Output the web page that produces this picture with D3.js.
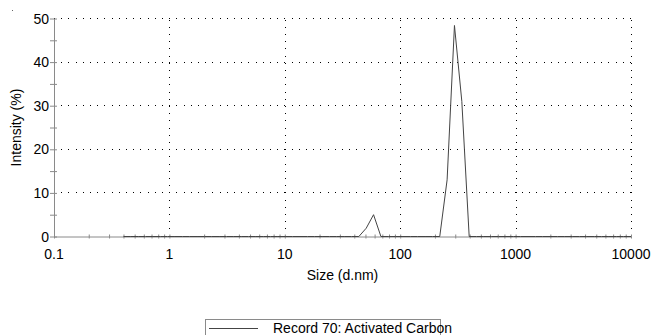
<!DOCTYPE html>
<html>
<head>
<meta charset="utf-8">
<script src="https://cdn.jsdelivr.net/npm/d3@7"></script>
<style>
  html, body { margin: 0; padding: 0; background: #fff; }
  svg { display: block; font-family: "Liberation Sans", Arial, sans-serif; }
</style>
</head>
<body>
<svg id="chart" width="653" height="335"></svg>
<script>
// Size distribution by intensity (size classes in d.nm)
const sizes = [0.4, 0.4632, 0.5365, 0.6213, 0.7195, 0.8332, 0.9649, 1.117, 1.294, 1.499,
  1.736, 2.01, 2.328, 2.696, 3.122, 3.615, 4.187, 4.849, 5.615, 6.503,
  7.531, 8.721, 10.1, 11.7, 13.54, 15.69, 18.17, 21.04, 24.36, 28.21,
  32.67, 37.84, 43.82, 50.75, 58.77, 68.06, 78.82, 91.28, 105.7, 122.4,
  141.8, 164.2, 190.1, 220.2, 255.0, 295.3, 342.0, 396.1, 458.7, 531.2,
  615.1, 712.4, 825.0, 955.4, 1106, 1281, 1484, 1718, 1990, 2305,
  2669, 3091, 3580, 4145, 4801, 5560, 6439, 7456, 8635, 10000];

const intensity = [0, 0, 0, 0, 0, 0, 0, 0, 0, 0,
  0, 0, 0, 0, 0, 0, 0, 0, 0, 0,
  0, 0, 0, 0, 0, 0, 0, 0, 0, 0,
  0, 0, 0, 1.9, 5.0, 0, 0, 0, 0, 0,
  0, 0, 0, 0, 13.0, 48.4, 31.0, 0, 0, 0,
  0, 0, 0, 0, 0, 0, 0, 0, 0, 0,
  0, 0, 0, 0, 0, 0, 0, 0, 0, 0];

const xTicks = [0.1, 1, 10, 100, 1000, 10000];
const xTickLabels = ["0.1", "1", "10", "100", "1000", "10000"];
const yTicks = [0, 10, 20, 30, 40, 50];
const yMinorTicks = [5, 15, 25, 35, 45];
const seriesName = "Record 70: Activated Carbon";
const xTitle = "Size (d.nm)";
const yTitle = "Intensity (%)";

const svg = d3.select("#chart");
const plotLeft = 54, plotRight = 631, plotTop = 18.5, plotBottom = 236.5;
const fontSize = 14;

const x = d3.scaleLog().domain([0.1, 10000]).range([plotLeft, plotRight]);
const y = d3.scaleLinear().domain([0, 50]).range([plotBottom, plotTop]);

const axisColor = "#8a8a8a";
const lineColor = "#444";
const gridDash = "1,6.2";

// dotted grid
const grid = svg.append("g");
grid.selectAll("line.h").data(yTicks.filter(d => d > 0)).join("line")
  .attr("x1", plotLeft).attr("x2", plotRight)
  .attr("y1", d => y(d)).attr("y2", d => y(d))
  .attr("stroke", "#000").attr("stroke-width", 1)
  .attr("stroke-dasharray", gridDash).attr("shape-rendering", "crispEdges");
grid.selectAll("line.v").data(xTicks.filter(d => d > 0.1)).join("line")
  .attr("x1", d => Math.round(x(d)) + 0.5).attr("x2", d => Math.round(x(d)) + 0.5)
  .attr("y1", plotBottom).attr("y2", plotTop)
  .attr("stroke", "#000").attr("stroke-width", 1)
  .attr("stroke-dasharray", gridDash).attr("shape-rendering", "crispEdges");

// x axis (log, with minor ticks crossing the axis line)
const minorX = [];
for (let e = -1; e < 4; e++) for (let m = 1; m <= 9; m++) minorX.push(m * Math.pow(10, e));
minorX.push(10000);
const xAxis = d3.axisBottom(x).tickValues(minorX).tickSize(0).tickFormat("");
const gx = svg.append("g").attr("transform", `translate(0,${plotBottom})`).call(xAxis);
gx.select(".domain").attr("stroke", axisColor);
gx.selectAll(".tick line").remove();
gx.selectAll(".tick").append("line")
  .attr("y1", -2).attr("y2", 2).attr("stroke", axisColor);
svg.append("g").selectAll("text").data(xTicks).join("text")
  .attr("x", d => x(d)).attr("y", plotBottom + 22)
  .attr("text-anchor", "middle").attr("font-size", fontSize).attr("fill", "#000")
  .text((d, i) => xTickLabels[i]);

// y axis
const yAxis = d3.axisLeft(y).tickValues(yTicks.concat(yMinorTicks)).tickSize(0).tickFormat("");
const gy = svg.append("g").attr("transform", `translate(${plotLeft},0)`).call(yAxis);
gy.select(".domain").attr("stroke", axisColor);
gy.selectAll(".tick line").remove();
gy.selectAll(".tick").append("line")
  .attr("x1", -4).attr("x2", 3).attr("stroke", axisColor);
svg.append("g").selectAll("text").data(yTicks).join("text")
  .attr("x", plotLeft - 5).attr("y", d => y(d) + 5)
  .attr("text-anchor", "end").attr("font-size", fontSize).attr("fill", "#000")
  .text(d => d);

// axis titles
svg.append("text").attr("x", (plotLeft + plotRight) / 2).attr("y", 280)
  .attr("text-anchor", "middle").attr("font-size", fontSize).text(xTitle);
svg.append("text").attr("transform", `translate(21,${(plotTop + plotBottom) / 2}) rotate(-90)`)
  .attr("text-anchor", "middle").attr("font-size", fontSize).text(yTitle);

// distribution curve
const pts = sizes.map((s, i) => [s, intensity[i]]);
svg.append("path").datum(pts)
  .attr("fill", "none").attr("stroke", lineColor).attr("stroke-width", 1)
  .attr("d", d3.line().x(d => x(d[0])).y(d => y(d[1])));

// legend
const lg = svg.append("g");
lg.append("rect").attr("x", 205.5).attr("y", 319.5).attr("width", 235).attr("height", 30)
  .attr("fill", "none").attr("stroke", axisColor);
lg.append("line").attr("x1", 209).attr("x2", 258).attr("y1", 328.5).attr("y2", 328.5)
  .attr("stroke", lineColor);
lg.append("text").attr("x", 273).attr("y", 333).attr("font-size", fontSize).text(seriesName);

// small corner mark
svg.append("rect").attr("x", 12).attr("y", 10).attr("width", 1).attr("height", 1).attr("fill", "#666");
</script>
</body>
</html>
